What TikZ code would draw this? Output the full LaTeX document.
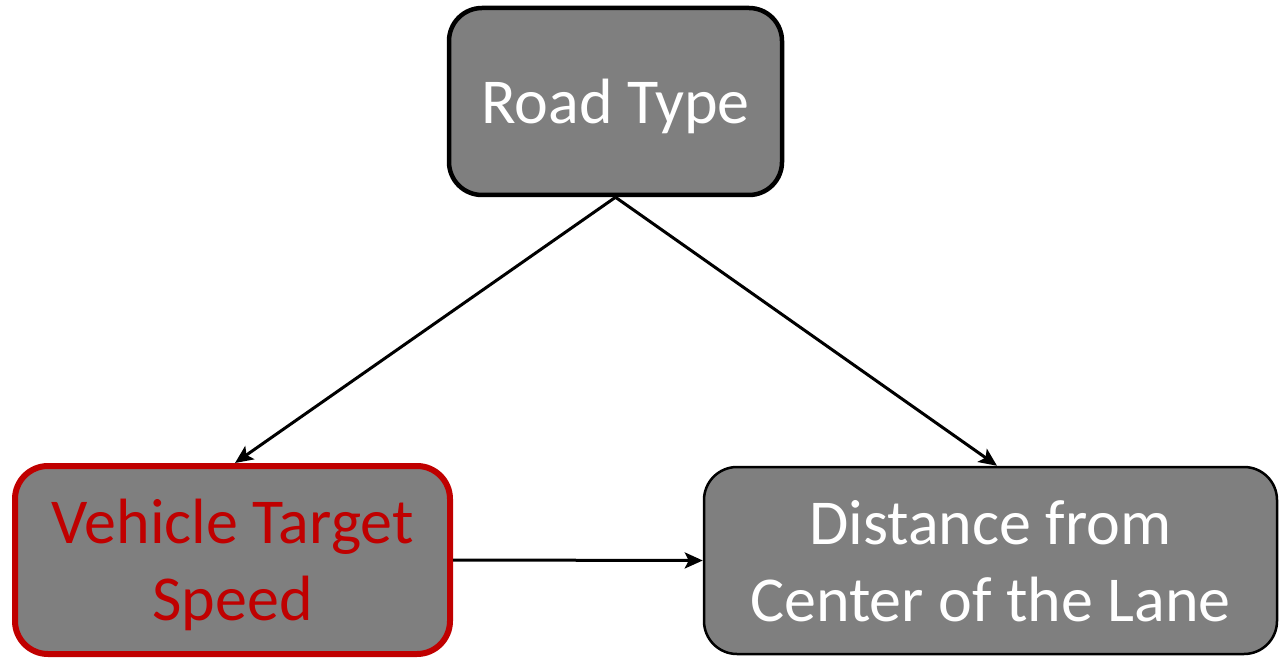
\documentclass[tikz,border=0pt]{standalone}
\usepackage{fontspec}
\setmainfont{Carlito}
\usetikzlibrary{arrows.meta}
\definecolor{boxgray}{HTML}{7F7F7F}
\definecolor{darkred}{HTML}{C00000}
\begin{document}
\begin{tikzpicture}[x=1pt,y=1pt,
  box/.style={rectangle, rounded corners=33pt, fill=boxgray, draw=black,
    align=center, inner sep=0pt, text depth=0pt, font=\fontsize{64}{77}\selectfont, text=white},
  conn/.style={line width=3pt, -{Stealth[length=18pt,width=16pt,inset=4pt]}}]
\useasboundingbox (0,0) rectangle (1279,657);
\node[box, line width=4.5pt, minimum width=333pt, minimum height=187pt] (rt) at (615.5,555.5) {Road Type};
\node[box, line width=6pt, draw=darkred, text=darkred, minimum width=435pt, minimum height=188pt] (vts) at (232.5,97) {Vehicle Target\\Speed};
\node[box, line width=2.5pt, minimum width=573pt, minimum height=187pt] (dist) at (990.5,96.5) {Distance from\\Center of the Lane};
\draw[conn] (rt.south) -- ([xshift=2.5pt]vts.north);
\draw[conn] (rt.south) -- ([xshift=6.5pt]dist.north);
\draw[conn] (vts.east) -- (dist.west);
\end{tikzpicture}
\end{document}
